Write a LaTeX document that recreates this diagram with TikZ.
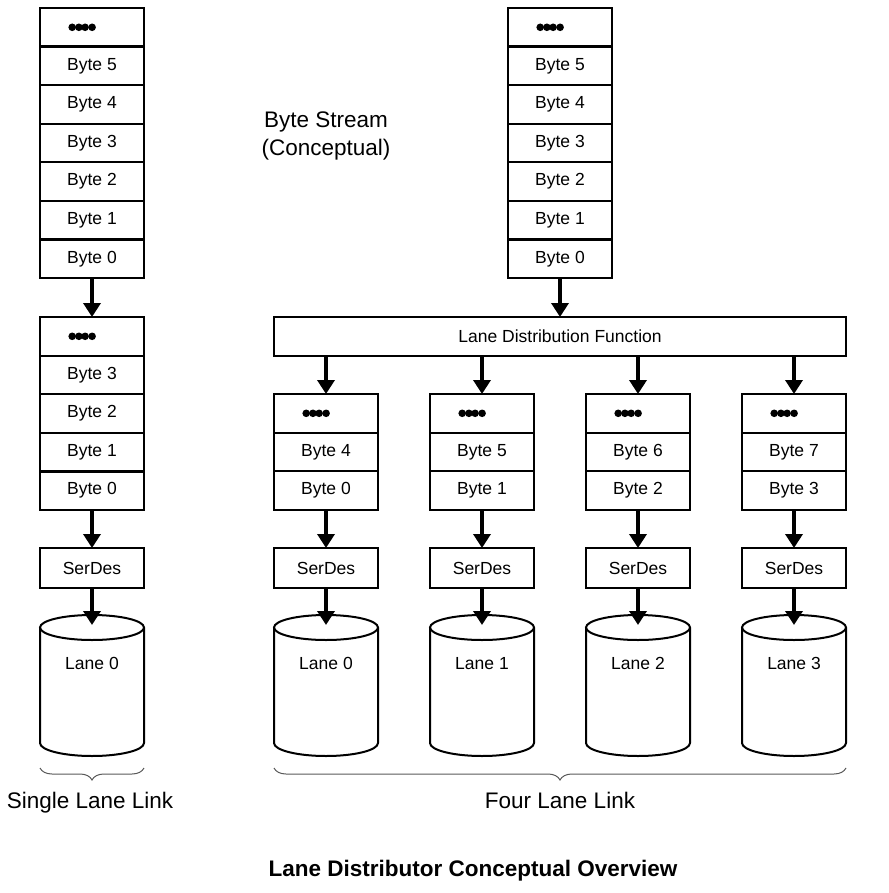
\documentclass[tikz,border=0pt]{standalone}
\usepackage{fontspec}
\setmainfont{Liberation Sans}
\usetikzlibrary{arrows.meta,decorations.pathreplacing,calc}
\begin{document}
\begin{tikzpicture}[x=1pt,y=-1pt,
  cell/.style={draw, line width=2.2pt, minimum width=104pt, minimum height=38.6pt,
    inner sep=0pt, outer sep=0pt, anchor=north, font=\fontsize{17.5}{20}\selectfont},
  ldf/.style={cell, minimum width=572pt},
  flow/.style={line width=4.5pt, -{Triangle[width=17pt,length=14pt]}},
  cylline/.style={line width=2pt},
  lanelbl/.style={font=\fontsize{17.5}{20}\selectfont, inner sep=0pt, text height=12.5pt, text depth=0pt},
  brace/.style={draw=black!65, line width=1pt,
    decorate, decoration={brace, mirror, amplitude=12pt}},
  biglbl/.style={font=\fontsize{22.5}{28}\selectfont, inner sep=0pt, align=center},
  linklbl/.style={biglbl, text height=16pt, text depth=0pt},
  titlelbl/.style={font=\bfseries\fontsize{22.5}{28}\selectfont, inner sep=0pt}]
\useasboundingbox (0,0) rectangle (888,893);

% ---- single lane: byte stream and lane buffer
\foreach \t [count=\k from 0] in {{},Byte 5,Byte 4,Byte 3,Byte 2,Byte 1,Byte 0}
  \node[cell] (A\k) at (92,{8+38.57*\k}) {\t};
\foreach \t [count=\k from 0] in {{},Byte 3,Byte 2,Byte 1,Byte 0}
  \node[cell] (B\k) at (92,{317+38.6*\k}) {\t};
\node[cell, minimum height=40pt] (S) at (92,548) {SerDes};

% ---- four lanes: byte stream and distribution
\foreach \t [count=\k from 0] in {{},Byte 5,Byte 4,Byte 3,Byte 2,Byte 1,Byte 0}
  \node[cell] (R\k) at (560,{8+38.57*\k}) {\t};
\node[ldf] (LDF) at (560,317) {Lane Distribution Function};

\foreach \cx/\hi/\lo [count=\j from 0] in {326/4/0,482/5/1,638/6/2,794/7/3} {
  \node[cell] (Q\j a) at (\cx,394) {};
  \node[cell] (Q\j b) at (\cx,432.6) {Byte \hi};
  \node[cell] (Q\j c) at (\cx,471.3) {Byte \lo};
  \node[cell, minimum height=40pt] (S\j) at (\cx,548) {SerDes};
}

% ---- ellipsis dots
\foreach \n in {A0,B0,R0,Q0a,Q1a,Q2a,Q3a}
  \foreach \dx in {-10.3,-3.6,2.6,9.6}
    \fill ($(\n.center)+(\dx-9.5,0)$) circle (3.8);

% ---- lanes (cylinders)
\foreach \cx/\nm/\lbl in {92/C/Lane 0,326/C0/Lane 0,482/C1/Lane 1,638/C2/Lane 2,794/C3/Lane 3} {
  \draw[cylline] (\cx,627.5) ellipse [x radius=52, y radius=12.5];
  \draw[cylline] (\cx-52,627.5) -- (\cx-52,743)
    arc[start angle=180, end angle=0, x radius=52, y radius=13] -- (\cx+52,627.5);
  \node[lanelbl] (\nm) at (\cx,663) {\lbl};
  \coordinate (\nm top) at (\cx,625);
}

% ---- connectors
\draw[flow] (A6.south) -- (B0.north);
\draw[flow] (B4.south) -- (S.north);
\draw[flow] (S.south) -- (Ctop);
\draw[flow] (R6.south) -- (LDF.north);
\foreach \j in {0,1,2,3} {
  \draw[flow] (LDF.south -| Q\j a.north) -- (Q\j a.north);
  \draw[flow] (Q\j c.south) -- (S\j.north);
  \draw[flow] (S\j.south) -- (C\j top);
}

% ---- braces and captions
\draw[brace] (40,768) -- (144,768);
\draw[brace] (274,768) -- (846,768);
\node[linklbl] (single) at (90,800) {Single Lane Link};
\node[linklbl] (four) at (560,800) {Four Lane Link};
\node[biglbl] (stream) at (326,136) {Byte Stream\\(Conceptual)};
\node[titlelbl] (title) at (473,871) {Lane Distributor Conceptual Overview};
\end{tikzpicture}
\end{document}
